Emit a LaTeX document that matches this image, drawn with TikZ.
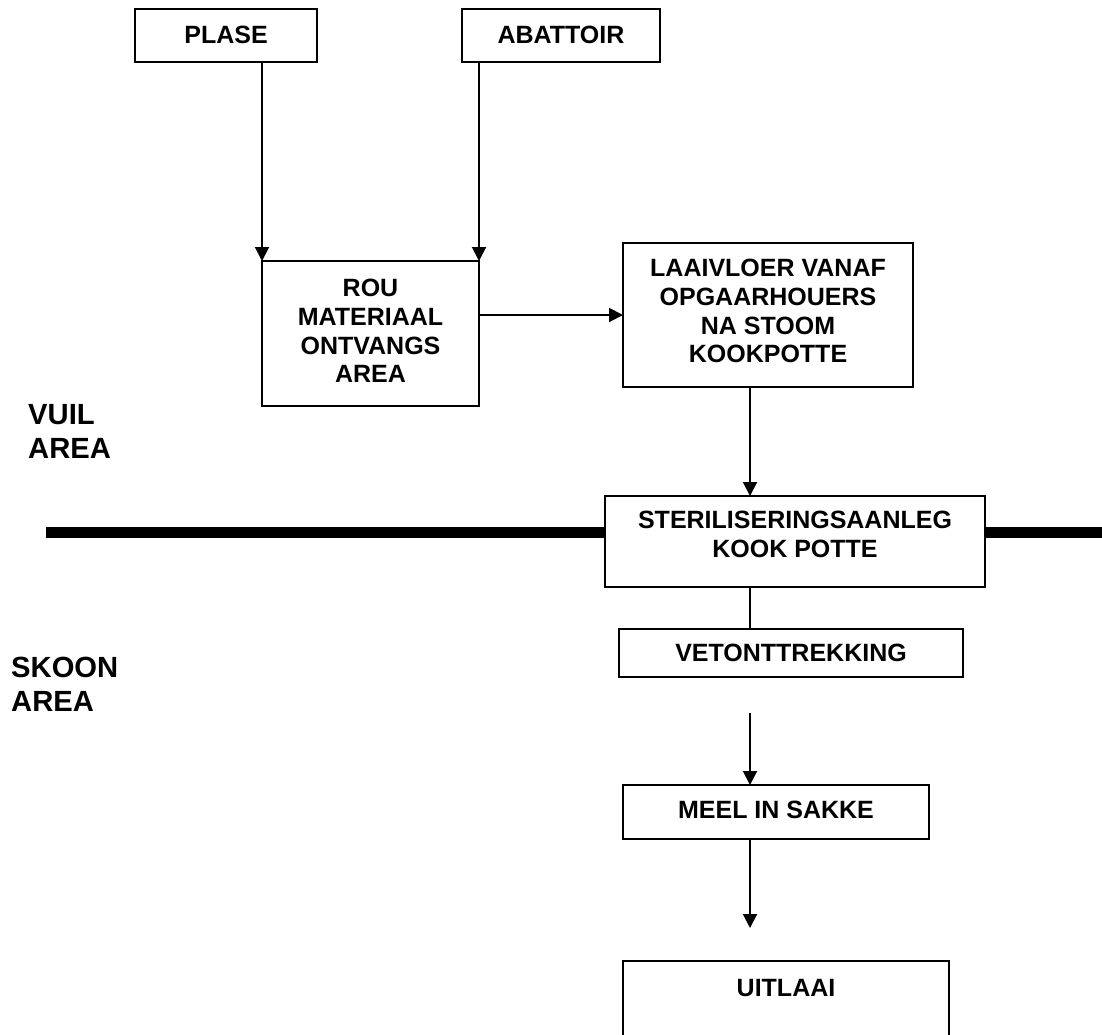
\documentclass[tikz,border=0pt]{standalone}
\usepackage{fontspec}
\setmainfont{Liberation Sans}
\usetikzlibrary{arrows.meta}
\tikzset{
  box/.style={draw, line width=2pt, inner sep=0pt, outer sep=0pt, anchor=north west},
  txt/.style={font=\bfseries\fontsize{25}{28.75}\selectfont, align=center, inner sep=0pt, anchor=north},
  lbl/.style={font=\bfseries\fontsize{29.2}{34}\selectfont, align=left, inner sep=0pt, anchor=north west},
  arr/.style={line width=2pt, -{Triangle[length=14pt,width=14pt]}},
  conn/.style={line width=2pt},
  divider/.style={line width=11pt},
}
\begin{document}
\begin{tikzpicture}[x=1pt,y=-1pt]
\useasboundingbox (0,0) rectangle (1102,1034);
\clip (0,0) rectangle (1102,1034);
\fill[white] (0,0) rectangle (1102,1034);

% boxes
\node[box, minimum width=182pt, minimum height=53pt] (plase) at (135,9) {};
\node[box, minimum width=198pt, minimum height=53pt] (abat) at (462,9) {};
\node[box, minimum width=217pt, minimum height=145pt] (rou) at (262,261) {};
\node[box, minimum width=290pt, minimum height=144pt] (laai) at (623,243) {};
\node[box, minimum width=380pt, minimum height=91pt] (steril) at (605,496) {};
\node[box, minimum width=344pt, minimum height=48pt] (vet) at (619,629) {};
\node[box, minimum width=306pt, minimum height=54pt] (meel) at (623,785) {};
\node[box, minimum width=326pt, minimum height=110pt] (uit) at (623,961) {};

% box texts
\node[txt] (plaset) at ([yshift=-17pt]plase.north) {PLASE};
\node[txt] (abatt) at ([yshift=-17pt]abat.north) {ABATTOIR};
\node[txt] (rout) at ([yshift=-18pt]rou.north) {ROU\\MATERIAAL\\ONTVANGS\\AREA};
\node[txt] (laait) at ([yshift=-16pt]laai.north) {LAAIVLOER VANAF\\OPGAARHOUERS\\NA STOOM\\KOOKPOTTE};
\node[txt] (sterilt) at ([yshift=-15pt]steril.north) {STERILISERINGSAANLEG\\KOOK POTTE};
\node[txt] (vett) at ([yshift=-15pt]vet.north) {VETONTTREKKING};
\node[txt] (meelt) at ([yshift=-16pt]meel.north) {MEEL IN SAKKE};
\node[txt] (uitt) at ([yshift=-18pt]uit.north) {UITLAAI};

% area labels
\node[lbl] (vuil) at (28,404) {VUIL\\AREA};
\node[lbl] (skoon) at (11,657) {SKOON\\AREA};

% vertical axis and free ends
\coordinate (axis) at (750,0);
\coordinate (a1) at (750,713);
\coordinate (a2) at (750,928);
\coordinate (t1) at (46,532);
\coordinate (t2) at (1102,532);

% connectors
\draw[arr] (plase.south -| rou.north west) -- (rou.north west);
\draw[arr] (abat.south -| rou.north east) -- (rou.north east);
\draw[arr] (laai.west -| rou.east) -- (laai.west);
\draw[arr] (laai.south -| axis) -- (steril.north -| axis);
\draw[conn] (steril.south -| axis) -- (vet.north -| axis);
\draw[arr] (a1) -- (meel.north -| axis);
\draw[arr] (meel.south -| axis) -- (a2);

% divider between dirty and clean areas
\draw[divider] (t1) -- (t1 -| steril.west);
\draw[divider] (steril.east |- t2) -- (t2);
\end{tikzpicture}
\end{document}
